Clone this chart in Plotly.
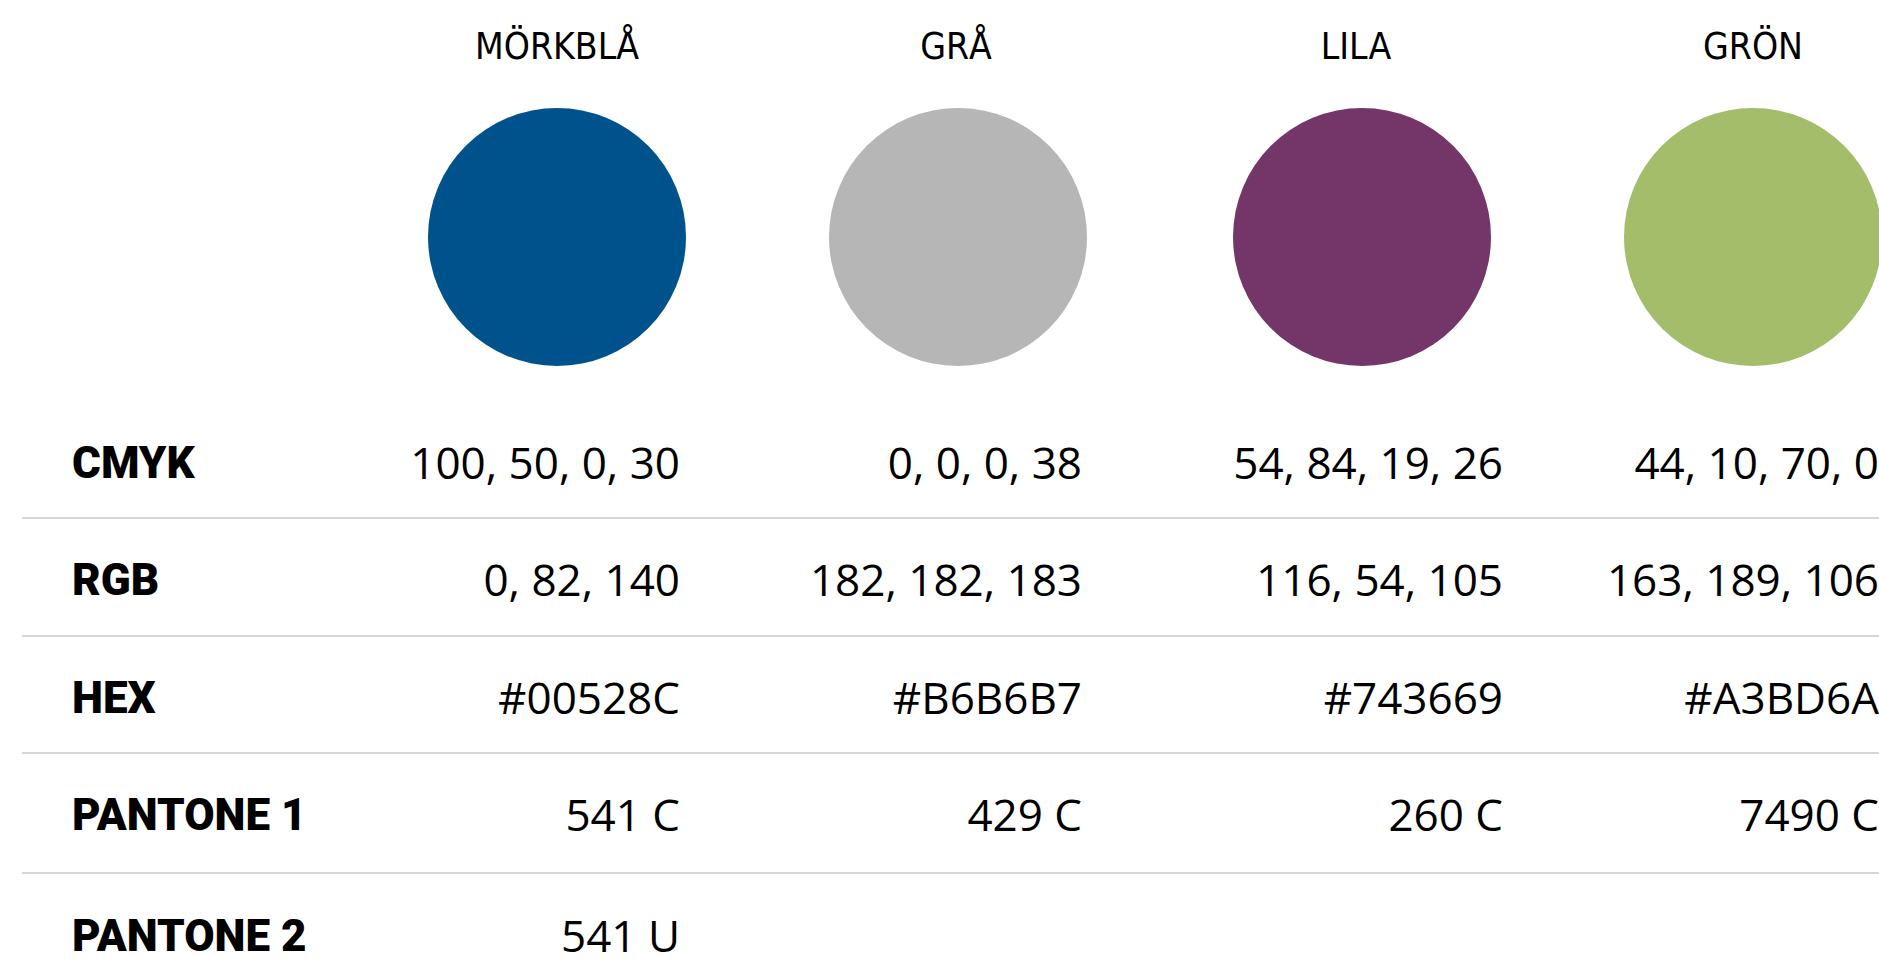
import plotly.graph_objects as go

# ---- data ----
color_names = ["MÖRKBLÅ", "GRÅ", "LILA", "GRÖN"]
hex_codes = ["#00528C", "#B6B6B7", "#743669", "#A3BD6A"]
cmyk = ["100, 50, 0, 30", "0, 0, 0, 38", "54, 84, 19, 26", "44, 10, 70, 0"]
rgb = ["0, 82, 140", "182, 182, 183", "116, 54, 105", "163, 189, 106"]
pantone1 = ["541 C", "429 C", "260 C", "7490 C"]
pantone2 = ["541 U", "", "", ""]
row_labels = ["CMYK", "RGB", "HEX", "PANTONE 1", "PANTONE 2"]
row_values = [cmyk, rgb, hex_codes, pantone1, pantone2]

# ---- layout constants (pixels) ----
W, H = 1879, 978
header_x = [557, 956, 1356, 1753]
circle_x = [557, 958, 1362, 1753]
value_right_x = [680, 1082, 1503, 1879]
label_left_x = 72
header_baseline = 63
circle_cy = 237
circle_d = 258
row_baselines = [483, 600, 718, 835, 956]
label_baselines = [482, 599, 717, 834, 955]
sep_lines_y = [518, 636, 753, 873]

VAL_SIZE = 44
LAB_SIZE = 44
HEAD_SIZE = 37
MID = 0.35  # plotly middle-shift in em

fig = go.Figure()

# circles
fig.add_trace(go.Scatter(
    x=circle_x, y=[circle_cy] * len(circle_x), mode="markers",
    marker=dict(size=circle_d, color=hex_codes, line=dict(width=0)),
    hoverinfo="skip", showlegend=False))

# headers
fig.add_trace(go.Scatter(
    x=header_x, y=[header_baseline - MID * HEAD_SIZE] * len(header_x),
    mode="text", text=color_names, textposition="middle center",
    textfont=dict(family="DejaVu Sans Condensed, Roboto, sans-serif",
                  size=HEAD_SIZE, color="#000000"),
    hoverinfo="skip", showlegend=False))

# row labels
fig.add_trace(go.Scatter(
    x=[label_left_x] * len(row_labels),
    y=[b - MID * LAB_SIZE for b in label_baselines],
    mode="text", text=row_labels, textposition="middle right",
    textfont=dict(family="Roboto, sans-serif", size=LAB_SIZE,
                  color="#000000", weight=900),
    hoverinfo="skip", showlegend=False))

# values per row
for base, vals in zip(row_baselines, row_values):
    fig.add_trace(go.Scatter(
        x=value_right_x, y=[base - MID * VAL_SIZE] * len(vals),
        mode="text", text=vals, textposition="middle left",
        textfont=dict(family="Open Sans, sans-serif", size=VAL_SIZE,
                      color="#000000"),
        cliponaxis=True, hoverinfo="skip", showlegend=False))

# separator lines
for yl in sep_lines_y:
    fig.add_shape(type="line", x0=22, x1=W, y0=yl, y1=yl,
                  line=dict(color="#C8C8C8", width=1.5), layer="below")

fig.update_layout(
    width=W, height=H,
    margin=dict(l=0, r=0, t=0, b=0),
    paper_bgcolor="white", plot_bgcolor="white",
    xaxis=dict(range=[0, W], visible=False, fixedrange=True),
    yaxis=dict(range=[H, 0], visible=False, fixedrange=True),
    showlegend=False,
)

fig.write_html(
    "out.html",
    config={"displayModeBar": False},
    post_script="document.body.style.margin='0';document.body.style.overflow='hidden';",
)
